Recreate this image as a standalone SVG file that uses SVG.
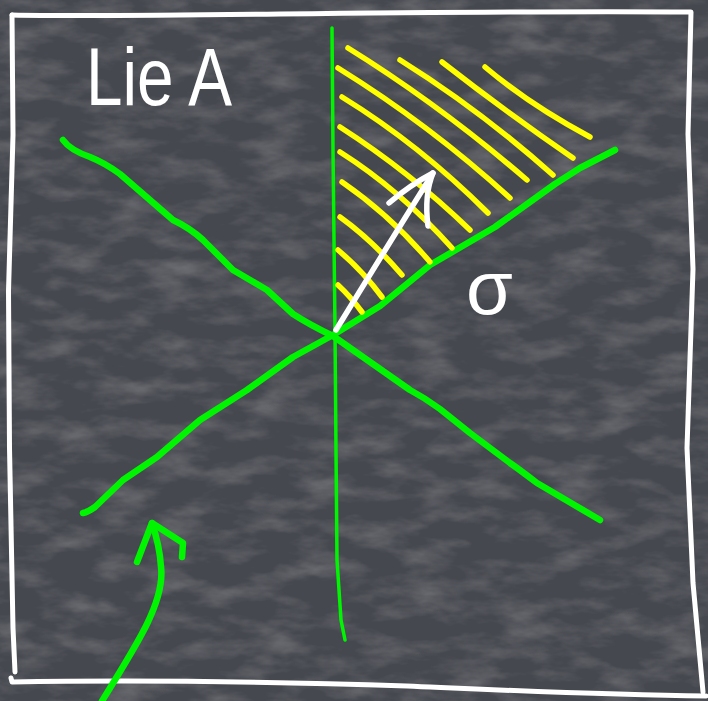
<svg xmlns="http://www.w3.org/2000/svg" width="708" height="701" viewBox="0 0 708 701">
<defs>
<filter id="chalk" x="0" y="0" width="100%" height="100%">
<feTurbulence type="fractalNoise" baseFrequency="0.02 0.05" numOctaves="4" seed="7"/>
<feColorMatrix type="matrix" values="0 0 0 0 1  0 0 0 0 1  0 0 0 0 1  0.4 0 0 0 -0.17"/>
</filter>
</defs>
<style>
.frame{fill:none;stroke:#ffffff;stroke-width:5;stroke-linecap:round;stroke-linejoin:round}
.green{fill:none;stroke:#00f500;stroke-width:6.5;stroke-linecap:round;stroke-linejoin:round}
.thin{fill:none;stroke:#00f500;stroke-width:3.5;stroke-linecap:round;stroke-linejoin:round}
.hatch{fill:none;stroke:#ffff00;stroke-width:5.5;stroke-linecap:round;stroke-linejoin:round}
.chalk{fill:none;stroke:#ffffff;stroke-width:5.5;stroke-linecap:round;stroke-linejoin:round}
.label{fill:#ffffff;font-family:"Liberation Sans",Arial,sans-serif}
</style>
<g id="board">
<rect x="0" y="0" width="708" height="701" fill="#46484f"/>
<rect x="0" y="0" width="708" height="701" filter="url(#chalk)"/>
</g>
<g id="frame">
<path class="frame" d="M12,15 C150,18 400,10 691,12 L688,134 L693,269 L687,448 L693,583 L703,692"/>
<path class="frame" d="M12,15 L13,135 L8.5,291 L9.5,448 L13,628 L15,672"/>
<path class="frame" d="M11,678 L12,682 C120,680 250,681 407,686 C520,691 600,695 706,696"/>
</g>
<g id="axes">
<path class="thin" d="M332,28 L333,150 L335,330 L336,450 L337,560 L341,620 L345,640"/>
<path class="green" d="M63,140 Q70,150 90,157 Q105,163 120,174 L173,220 Q190,228 203,240 L233,270 Q250,280 267,290 L293,314 Q310,325 333,336 L410,390 Q425,398 440,409 L470,433 L510,463 Q520,470 537,483 L600,520"/>
<path class="green" d="M83,513 Q88,512 95,507 L123,480 L157,457 L200,420 L247,390 L293,357 L333,335 L380,306 L430,265 L495,227 L555,184 L580,168 L615,150"/>
</g>
<g id="hatching">
<path class="hatch" d="M338,285 Q350,296 362,312"/>
<path class="hatch" d="M338,250 Q362,270 382,297"/>
<path class="hatch" d="M340,217 Q372,240 402,275"/>
<path class="hatch" d="M342,182 Q390,215 430,262"/>
<path class="hatch" d="M340,152 Q400,190 452,248"/>
<path class="hatch" d="M340,127 Q410,172 470,230"/>
<path class="hatch" d="M342,97 Q420,145 488,213"/>
<path class="hatch" d="M338,68 Q430,125 510,198"/>
<path class="hatch" d="M348,48 Q440,105 527,180"/>
<path class="hatch" d="M400,60 Q480,110 553,175"/>
<path class="hatch" d="M442,62 Q510,115 573,158"/>
<path class="hatch" d="M485,67 Q530,105 590,137"/>
</g>
<g id="vector">
<path class="chalk" d="M336,330 Q385,250 433,173"/>
<path class="chalk" d="M389,203 Q410,185 433,173 Q424,195 428,226"/>
</g>
<g id="labels">
<text class="label" x="86" y="105" font-size="82" textLength="146" lengthAdjust="spacingAndGlyphs">Lie A</text>
<text class="label" x="466" y="314" font-size="76">σ</text>
</g>
<g id="pointer">
<path class="green" d="M102,701 C140,640 165,600 161,567 C160,548 156,535 152,523"/>
<path class="green" d="M137,562 L152,523 L183,543 L182,557"/>
</g>
</svg>
